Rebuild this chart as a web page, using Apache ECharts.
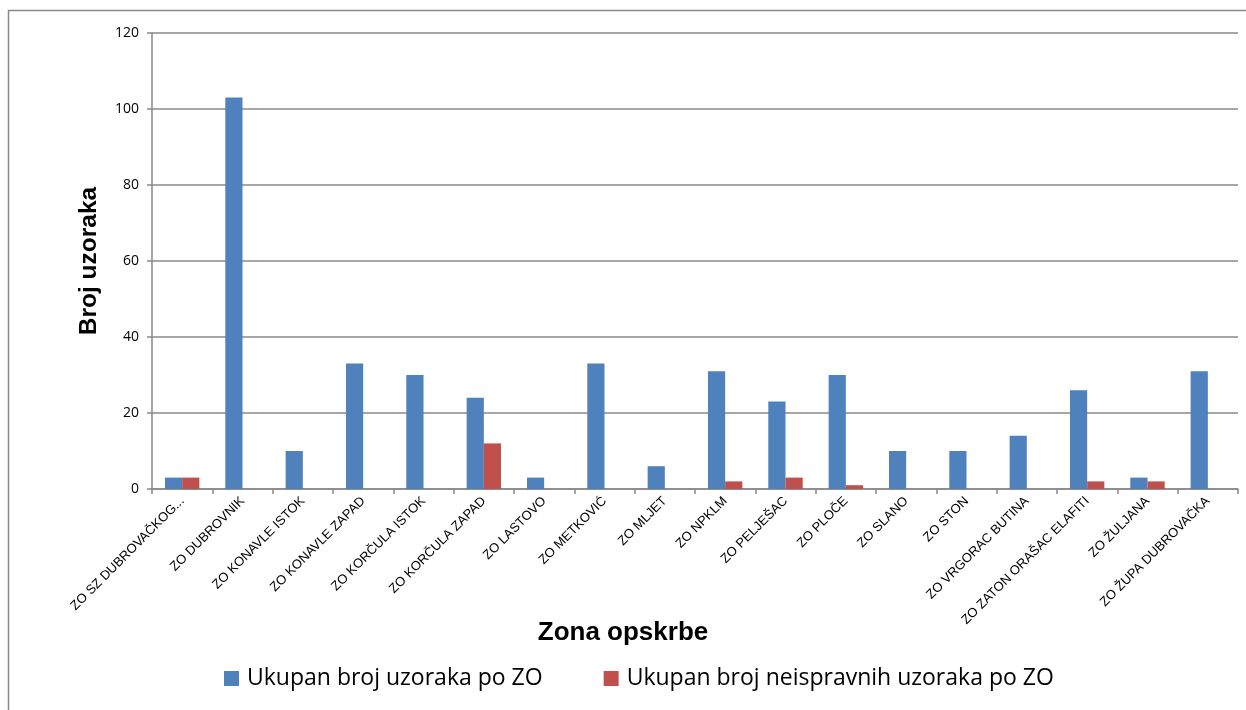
<!DOCTYPE html>
<html><head><meta charset="utf-8">
<script src="https://cdn.jsdelivr.net/npm/echarts@6/dist/echarts.min.js"></script>
<style>html,body{margin:0;padding:0;background:#fff}#c{width:1246px;height:710px}</style>
</head><body><div id="c"></div>
<script>
const categories = ["ZO SZ DUBROVAČKOG...","ZO DUBROVNIK","ZO KONAVLE ISTOK","ZO KONAVLE ZAPAD","ZO KORČULA ISTOK","ZO KORČULA ZAPAD","ZO LASTOVO","ZO METKOVIĆ","ZO MLJET","ZO NPKLM","ZO PELJEŠAC","ZO PLOČE","ZO SLANO","ZO STON","ZO VRGORAC BUTINA","ZO ZATON ORAŠAC ELAFITI","ZO ŽULJANA","ZO ŽUPA DUBROVAČKA"];
const ukupno = [3,103,10,33,30,24,3,33,6,31,23,30,10,10,14,26,3,31];
const neispravni = [3,0,0,0,0,12,0,0,0,2,3,1,0,0,0,2,2,0];
const yTicks = [0,20,40,60,80,100,120];
const seriesNames = ["Ukupan broj uzoraka po ZO","Ukupan broj neispravnih uzoraka po ZO"];
const xTitle = "Zona opskrbe";

const chart = echarts.init(document.getElementById('c'));
chart.setOption({
  animation:false,
  graphic:[{type:'rect',shape:{x:8.5,y:10.5,width:1260,height:720},style:{fill:'none',stroke:'#888',lineWidth:1.5},z:-1}],
  title:{text:xTitle,left:'center',top:620,padding:0,
    textStyle:{fontFamily:'Liberation Sans',fontSize:26,fontWeight:'bold',color:'#000'}},
  grid:{left:152,right:8,top:33,bottom:221},
  legend:{bottom:20,left:224,itemWidth:15,itemHeight:15,itemGap:61,icon:'rect',padding:0,
    textStyle:{fontFamily:'Open Sans',fontSize:23,color:'#000',padding:[0,0,0,3]},data:seriesNames},
  xAxis:{type:'category',data:categories,
    axisLine:{lineStyle:{color:'#888',width:1.5}},
    axisTick:{show:true,length:5,lineStyle:{color:'#888',width:1.5}},
    axisLabel:{rotate:45,interval:0,fontFamily:'Liberation Sans',fontSize:13,color:'#000',margin:10}},
  yAxis:{type:'value',min:0,max:120,interval:20,name:'Broj uzoraka',nameLocation:'middle',nameGap:50,
    nameTextStyle:{fontFamily:'Liberation Sans',fontSize:24.5,fontWeight:'bold',color:'#000'},
    axisLine:{show:true,lineStyle:{color:'#888',width:1.5}},
    axisTick:{show:true,length:5,lineStyle:{color:'#888',width:1.5}},
    splitLine:{lineStyle:{color:'#888',width:1.5}},
    axisLabel:{fontFamily:'Open Sans',fontSize:14,color:'#000',margin:13,
      formatter:v=>yTicks.includes(v)?String(v):''}},
  series:[
    {name:seriesNames[0],type:'bar',data:ukupno,barGap:'0%',barCategoryGap:'43%',
      itemStyle:{color:'#4F81BD'}},
    {name:seriesNames[1],type:'bar',data:neispravni,
      itemStyle:{color:'#C0504D'}}
  ]
});
</script></body></html>
